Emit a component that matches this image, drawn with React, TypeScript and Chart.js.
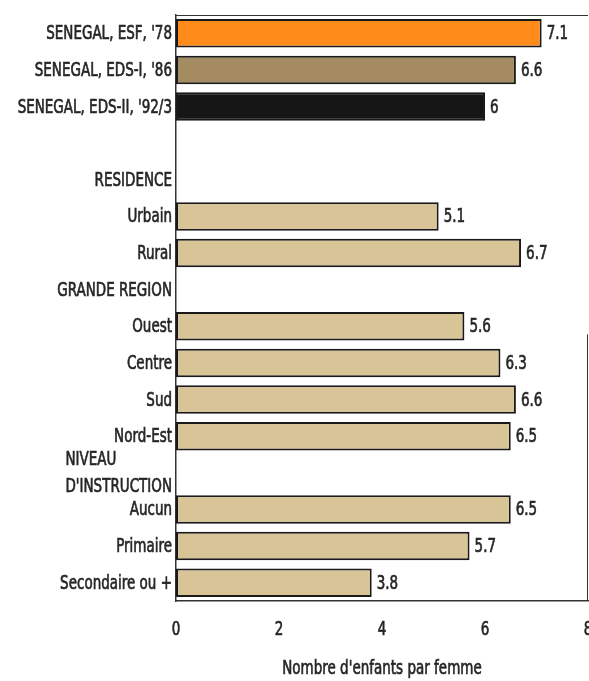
import React, { useEffect, useRef } from "react";
import { Chart, registerables } from "chart.js";

Chart.register(...registerables);

const categories = [
  "SENEGAL, ESF, '78",
  "SENEGAL, EDS-I, '86",
  "SENEGAL, EDS-II, '92/3",
  "",
  "RESIDENCE",
  "Urbain",
  "Rural",
  "GRANDE REGION",
  "Ouest",
  "Centre",
  "Sud",
  "Nord-Est",
  "NIVEAU|D'INSTRUCTION",
  "Aucun",
  "Primaire",
  "Secondaire ou +",
];

const values: (number | null)[] = [
  7.1, 6.6, 6.0, null, null, 5.1, 6.7, null, 5.6, 6.3, 6.6, 6.5, null, 6.5, 5.7, 3.8,
];

const valueLabels: string[] = [
  "7.1", "6.6", "6", "", "", "5.1", "6.7", "", "5.6", "6.3", "6.6", "6.5", "", "6.5", "5.7", "3.8",
];

const barColors = [
  "#FF8C1A", "#A48B62", "#161616", "", "", "#D8C497", "#D8C497", "",
  "#D8C497", "#D8C497", "#D8C497", "#D8C497", "", "#D8C497", "#D8C497", "#D8C497",
];

const xTicks = [0, 2, 4, 6, 8];
const xTitle = "Nombre d'enfants par femme";

const FONT = "'Liberation Sans Narrow', 'DejaVu Sans Condensed', 'Liberation Sans', sans-serif";
const SY = 1.3;

function drawText(ctx: CanvasRenderingContext2D, text: string, x: number, y: number, align: CanvasTextAlign) {
  ctx.save();
  ctx.translate(x, y);
  ctx.scale(1, SY);
  ctx.textAlign = align;
  ctx.textBaseline = "middle";
  ctx.fillText(text, 0, 0);
  ctx.strokeText(text, 0, 0);
  ctx.restore();
}

export default function App() {
  const ref = useRef<HTMLCanvasElement | null>(null);

  useEffect(() => {
    if (!ref.current) return;

    const overlay = {
      id: "overlay",
      afterDatasetsDraw(chart: any) {
        const ctx = chart.ctx as CanvasRenderingContext2D;
        const area = chart.chartArea;
        const x = chart.scales.x;
        const y = chart.scales.y;
        ctx.save();
        ctx.font = `15px ${FONT}`;
        ctx.fillStyle = "#262626";
        ctx.strokeStyle = "#262626";
        ctx.lineWidth = 0.5;
        // category labels
        categories.forEach((c, i) => {
          if (!c) return;
          const cy = y.getPixelForValue(i) + 1;
          if (c.indexOf("|") >= 0) {
            const parts = c.split("|");
            const w = Math.max(...parts.map((p) => ctx.measureText(p).width));
            const left = area.left - 4 - w;
            parts.forEach((p, k) => {
              drawText(ctx, p, left, cy + (k - (parts.length - 1) / 2) * 27, "left");
            });
          } else {
            drawText(ctx, c, area.left - 4, cy, "right");
          }
        });
        // value labels
        values.forEach((v, i) => {
          if (v == null) return;
          drawText(ctx, valueLabels[i], x.getPixelForValue(v) + 5, y.getPixelForValue(i) + 1, "left");
        });
        // x tick labels
        xTicks.forEach((t) => {
          drawText(ctx, String(t), x.getPixelForValue(t), area.bottom + 29, "center");
        });
        // x title
        drawText(ctx, xTitle, (area.left + area.right) / 2, area.bottom + 68, "center");

        // frame: top line and partial right line
        ctx.strokeStyle = "#333";
        ctx.lineWidth = 1;
        ctx.beginPath();
        ctx.moveTo(area.left, area.top + 0.5);
        ctx.lineTo(area.right, area.top + 0.5);
        ctx.moveTo(area.right - 0.5, y.getPixelForValue(8) + 8);
        ctx.lineTo(area.right - 0.5, area.bottom);
        ctx.stroke();
        ctx.restore();
      },
    };

    const chart = new Chart(ref.current, {
      type: "bar",
      data: {
        labels: categories,
        datasets: [
          {
            data: values,
            backgroundColor: barColors,
            borderColor: "#1a1a1a",
            borderWidth: 2,
            borderSkipped: false,
            barPercentage: 0.78,
            categoryPercentage: 1,
          },
        ],
      },
      options: {
        indexAxis: "y",
        responsive: false,
        animation: false,
        layout: { padding: { top: 15, right: 1, left: 0, bottom: 0 } },
        plugins: {
          legend: { display: false },
          tooltip: { enabled: false },
          title: { display: false },
        },
        scales: {
          x: {
            min: 0,
            max: 8,
            afterBuildTicks: (s: any) => {
              s.ticks = xTicks.map((v) => ({ value: v }));
            },
            afterFit: (s: any) => {
              s.height = 80;
              s.paddingLeft = 0;
              s.paddingRight = 0;
            },
            grid: { display: false, drawTicks: false },
            border: { display: true, color: "#333", width: 1.5 },
            ticks: { display: false },
          },
          y: {
            afterFit: (s: any) => {
              s.width = 176;
            },
            grid: { display: false, drawTicks: false },
            border: { display: true, color: "#333", width: 1.5 },
            ticks: { display: false, autoSkip: false },
          },
        },
      },
      plugins: [overlay],
    } as any);

    return () => chart.destroy();
  }, []);

  return (
    <div style={{ position: "absolute", left: 0, top: 0, width: 589, height: 681, background: "#fff" }}>
      <canvas ref={ref} width={589} height={681} />
    </div>
  );
}
